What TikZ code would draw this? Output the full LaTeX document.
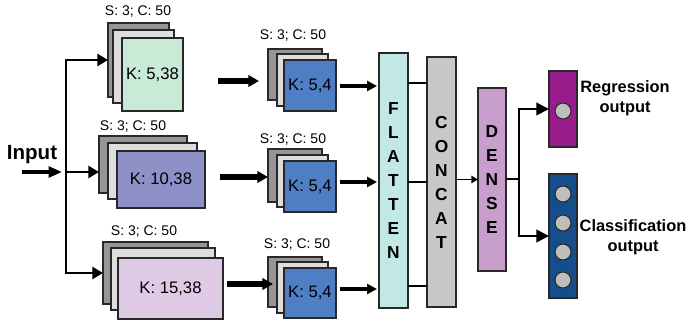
\documentclass[tikz,border=0pt]{standalone}
\usepackage{fontspec}
\setmainfont{Liberation Sans}
\usetikzlibrary{arrows.meta}

\definecolor{mintc}{RGB}{200,234,214}
\definecolor{violc}{RGB}{142,144,200}
\definecolor{lavc}{RGB}{222,202,228}
\definecolor{bluec}{RGB}{80,126,196}
\definecolor{flatc}{RGB}{194,232,230}
\definecolor{concc}{RGB}{200,200,200}
\definecolor{densc}{RGB}{200,158,204}
\definecolor{regc}{RGB}{152,28,140}
\definecolor{clsc}{RGB}{22,78,140}
\definecolor{darkg}{RGB}{150,150,150}
\definecolor{lightg}{RGB}{222,222,222}
\definecolor{neurc}{RGB}{190,190,190}
\definecolor{edgec}{RGB}{40,40,40}

% box from corner (#2,#3) to corner (#4,#5), in pixel units
\newcommand{\pxbox}[7]{%
  \node[#6, minimum width={(#4-#2)*0.75pt}, minimum height={(#5-#3)*0.75pt}]
    (#1) at ({(#2+#4)/2},{(#3+#5)/2}) {#7};}

\tikzset{
  layer/.style={draw=edgec, line width=0.8pt, inner sep=0pt, outer sep=0pt},
  backl/.style={layer, fill=darkg},
  midl/.style={layer, fill=lightg},
  slabel/.style={font=\fontsize{10.5}{12}\selectfont, inner sep=0pt},
  klabel/.style={font=\fontsize{12.5}{14}\selectfont},
  vlabel/.style={font=\bfseries\fontsize{13}{18}\selectfont, align=center},
  bigarrow/.style={line width=3.8pt, -{Triangle[length=8pt,width=8.5pt]}},
  midarrow/.style={line width=3pt, -{Triangle[length=7.5pt,width=7.5pt]}},
  brarrow/.style={line width=1.9pt, -{Triangle[length=8pt,width=9pt]}},
  outarrow/.style={line width=1.5pt, -{Triangle[length=9.5pt,width=9.5pt]}},
  smallarrow/.style={line width=1.3pt, -{Triangle[length=5pt,width=5.5pt]}},
  link/.style={line width=2.2pt},
  neuron/.style={circle, draw=edgec, line width=0.8pt, fill=neurc, minimum size=12pt, inner sep=0pt},
  outtext/.style={font=\bfseries\fontsize{12.3}{15}\selectfont, align=center}
}

\begin{document}
\begin{tikzpicture}[x=0.75pt, y=-0.75pt]
\useasboundingbox (0,0) rectangle (689,324);

% ---- input ----
\node[font=\bfseries\fontsize{15.4}{17}\selectfont] (inp) at (32,155) {Input};

% ---- first convolution stacks ----
\pxbox{g1b}{108}{23}{169}{97}{backl}{}
\pxbox{g1m}{113}{30}{174}{103}{midl}{}
\pxbox{g1f}{122}{38}{183}{111}{layer, fill=mintc, klabel}{K: 5,38}
\node[slabel] (s1) at (138,12) {S: 3; C: 50};

\pxbox{g2b}{99}{136}{187}{193}{backl}{}
\pxbox{g2m}{108}{143}{197}{199}{midl}{}
\pxbox{g2f}{117}{151}{205}{208}{layer, fill=violc, klabel}{K: 10,38}
\node[slabel] (s2) at (133,127) {S: 3; C: 50};

\pxbox{g3b}{103}{242}{208}{304}{backl}{}
\pxbox{g3m}{111}{248}{215}{310}{midl}{}
\pxbox{g3f}{118}{258}{223}{319}{layer, fill=lavc, klabel}{K: 15,38}
\node[slabel] (s3) at (144,232) {S: 3; C: 50};

% ---- second convolution stacks ----
\pxbox{r1b}{268}{49}{322}{100}{backl}{}
\pxbox{r1m}{277}{54}{328}{106}{midl}{}
\pxbox{r1f}{284}{60}{336}{111}{layer, fill=bluec, klabel}{K: 5,4}
\node[slabel] (t1) at (293,36) {S: 3; C: 50};

\pxbox{r2b}{268}{149}{322}{202}{backl}{}
\pxbox{r2m}{277}{155}{328}{207}{midl}{}
\pxbox{r2f}{284}{161}{336}{212}{layer, fill=bluec, klabel}{K: 5,4}
\node[slabel] (t2) at (293,140) {S: 3; C: 50};

\pxbox{r3b}{268}{257}{322}{307}{backl}{}
\pxbox{r3m}{277}{262}{328}{313}{midl}{}
\pxbox{r3f}{284}{268}{336}{318}{layer, fill=bluec, klabel}{K: 5,4}
\node[slabel] (t3) at (297,245) {S: 3; C: 50};

% ---- flatten / concat / dense ----
\pxbox{flat}{379}{53}{408}{308}{layer, fill=flatc, vlabel}{F\\L\\A\\T\\T\\E\\N}
\pxbox{conc}{427}{57}{456}{307}{layer, fill=concc, vlabel}{C\\O\\N\\C\\A\\T}
\pxbox{dens}{478}{88}{506}{271}{layer, fill=densc, vlabel}{D\\E\\N\\S\\E}

% ---- outputs ----
\pxbox{reg}{549}{71}{577}{147}{layer, fill=regc}{}
\pxbox{cls}{549}{174}{577}{298}{layer, fill=clsc}{}
\node[neuron] (n0) at (563,111) {};
\node[neuron] (n1) at (563,194) {};
\node[neuron] (n2) at (563,223) {};
\node[neuron] (n3) at (563,252) {};
\node[neuron] (n4) at (563,280) {};
\node[outtext] (regt) at (625,98) {Regression\\output};
\node[outtext] (clst) at (633,237) {Classification\\output};

% ---- input branching ----
\coordinate (ins) at (22,172);
\coordinate (jn) at (66,172);
\coordinate (jtop) at (66,60);
\coordinate (jbot) at (66,273);
\draw[bigarrow, line width=3.6pt, -{Triangle[length=10pt,width=8pt]}, shorten >=3pt] (ins) -- (jn);
\draw[line width=1.9pt] (jtop) -- (jbot);
\draw[brarrow] ([xshift=-0.7pt]jtop) -- (g1b.west);
\draw[brarrow] (jn) -- (g2b.west |- jn);
\draw[brarrow] ([xshift=-0.7pt]jbot) -- (g3b.west);

% ---- between the stacks ----
\coordinate (a1s) at (218,81);  \coordinate (a1e) at (259,81);
\coordinate (a2s) at (220,177); \coordinate (a2e) at (268,177);
\coordinate (a3s) at (227,284); \coordinate (a3e) at (273,284);
\draw[bigarrow] (a1s) -- (a1e);
\draw[bigarrow] (a2s) -- (a2e);
\draw[bigarrow] (a3s) -- (a3e);

\coordinate (b1s) at (340,86);  \coordinate (b1e) at (377,86);
\coordinate (b2s) at (340,182); \coordinate (b2e) at (377,182);
\coordinate (b3s) at (340,289); \coordinate (b3e) at (377,289);
\draw[midarrow] (b1s) -- (b1e);
\draw[midarrow] (b2s) -- (b2e);
\draw[midarrow] (b3s) -- (b3e);

% ---- flatten to concat ----
\coordinate (c1) at (0,83);
\coordinate (c2) at (0,182);
\coordinate (c3) at (0,286);
\draw[link] (flat.east |- c1) -- (conc.west |- c1);
\draw[link] (flat.east |- c2) -- (conc.west |- c2);
\draw[link] (flat.east |- c3) -- (conc.west |- c3);

% ---- concat to dense ----
\draw[smallarrow] (dens.west -| conc.east) -- (dens.west);

% ---- dense to outputs ----
\coordinate (djx) at (519,0);
\coordinate (dj) at (dens.east -| djx);
\draw[line width=1.5pt] (dens.east) -- (dj);
\draw[outarrow] (dj) |- (reg.west);
\draw[outarrow] (dj) |- (cls.west);
\end{tikzpicture}
\end{document}
